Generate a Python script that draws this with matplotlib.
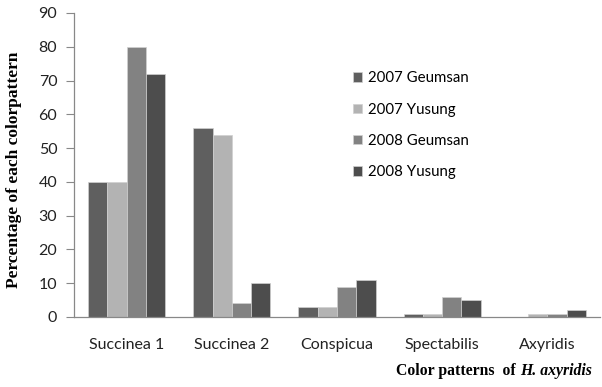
import numpy as np
import matplotlib.pyplot as plt

categories = ["Succinea 1", "Succinea 2", "Conspicua", "Spectabilis", "Axyridis"]
series = ["2007 Geumsan", "2007 Yusung", "2008 Geumsan", "2008 Yusung"]
geumsan_2007 = [40, 56, 3, 1, 0]
yusung_2007 = [40, 54, 3, 1, 1]
geumsan_2008 = [80, 4, 9, 6, 1]
yusung_2008 = [72, 10, 11, 5, 2]
yticks = [0, 10, 20, 30, 40, 50, 60, 70, 80, 90]

colors = ["#5f5f5f", "#b3b3b3", "#828282", "#4d4d4d"]
values = [geumsan_2007, yusung_2007, geumsan_2008, yusung_2008]

plt.rcParams["font.family"] = ["Lato", "DejaVu Sans"]
fig = plt.figure(figsize=(6.02, 3.87), dpi=100)
ax = fig.add_axes([74/602, 1-317/387, 526/602, (317-13)/387])

x = np.arange(len(categories))
bw = 0.183
for i, (vals, c, lab) in enumerate(zip(values, colors, series)):
    ax.bar(x + (i-1.5)*bw, vals, bw, color=c, edgecolor="#d0d0d0",
           linewidth=0.5, label=lab)

ax.set_xlim(-0.5, 4.5)
ax.set_ylim(0, 90)
ax.set_yticks(yticks)
ax.set_xticks(x)
ax.set_xticklabels(categories, fontsize=11.5, color="#222222")
ax.tick_params(axis="x", length=0, pad=15)
ax.tick_params(axis="y", length=6, color="#888888", labelsize=11.5,
               labelcolor="#222222", pad=6)
for s in ["top", "right"]:
    ax.spines[s].set_visible(False)
for s in ["left", "bottom"]:
    ax.spines[s].set_color("#888888")
    ax.spines[s].set_linewidth(0.9)

leg = ax.legend(loc="upper left", bbox_to_anchor=(0.504, 0.852), frameon=False,
                fontsize=10.8, handlelength=0.6, handleheight=0.6,
                handletextpad=0.45, labelspacing=1.15)

serif = ["Liberation Serif", "DejaVu Serif"]
fig.text(0.024, 0.56, "Percentage of each colorpattern", rotation=90,
         ha="center", va="center", fontsize=12.5, fontweight="bold",
         family=serif)

# x-axis title: bold roman part + bold italic species name, right aligned
renderer = fig.canvas.get_renderer()
t2 = fig.text(592/602, 1-375/387, "H. axyridis", ha="right", va="baseline",
              fontsize=11.3, fontweight="bold", style="italic", family=serif)
w2 = t2.get_window_extent(renderer).width / fig.bbox.width
fig.text(592/602 - w2, 1-375/387, "Color patterns  of ", ha="right",
         va="baseline", fontsize=11.3, fontweight="bold", family=serif)

fig.savefig("out.png", dpi=100)
